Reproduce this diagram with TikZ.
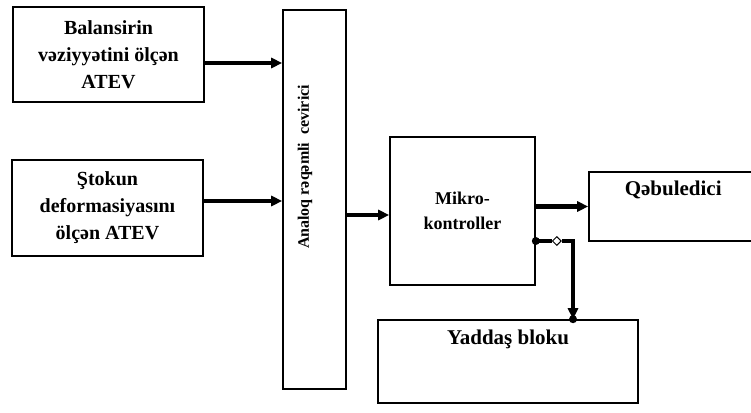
\documentclass[tikz,border=0pt]{standalone}
\usepackage{fontspec}
\setmainfont{Liberation Serif}
\usepackage{tikz}
\usetikzlibrary{arrows.meta,positioning,shapes.geometric}

\begin{document}
\begin{tikzpicture}[x=1pt,y=-1pt,>={Triangle[length=11pt,width=10pt]},
  blk/.style={draw,line width=1.6pt,inner sep=0pt,align=center,
    font=\bfseries\fontsize{20}{27}\selectfont},
  lbl/.style={inner sep=0pt,font=\bfseries\fontsize{21}{27}\selectfont},
  sig/.style={->,line width=4.5pt}]
  \useasboundingbox (0,0) rectangle (751,412);
  % measuring blocks
  \node[blk,minimum width=191pt,minimum height=95pt] (bal) at (108.5,54.5)
        {Balansirin\\vəziyyətini ölçən\\ATEV};
  \node[blk,minimum width=191pt,minimum height=96pt] (stok) at (107.5,208)
        {Ştokun\\deformasiyasını\\ölçən ATEV};
  % converter, text turned upright
  \node[blk,minimum width=63pt,minimum height=379pt] (adc) at (314.5,199.5) {};
  \node[rotate=90,inner sep=0pt,font=\bfseries\fontsize{16}{20}\selectfont]
        (adct) at (305,167) {Analoq rəqəmli~ cevirici};
  \node[blk,minimum width=145pt,minimum height=148pt,
        font=\bfseries\fontsize{18}{25}\selectfont] (mik) at (462.5,211)
        {Mikro-\\kontroller};
  % receiver runs off the right edge
  \node[blk,minimum width=250pt,minimum height=69pt] (qeb) at (714,206.5) {};
  \node[lbl,anchor=north] (qebt) at ([xshift=85pt,yshift=-10pt]qeb.north west)
        {Qəbuledici};
  \node[blk,minimum width=260pt,minimum height=83pt] (yad) at (508,361.5) {};
  \node[lbl,below=11pt of yad.north] (yadt) {Yaddaş bloku};
  % signal lines
  \coordinate (a1) at ([yshift=-8.5pt]bal.east);
  \coordinate (a2) at ([yshift=7pt]stok.east);
  \coordinate (a3) at ([yshift=-4pt]mik.west);
  \draw[sig] (a1) -- (a1 -| adc.west);
  \draw[sig] (a2) -- (a2 -| adc.west);
  \draw[sig] (a3 -| adc.east) -- (a3);
  \draw[sig] (mik.east |- qeb.west) -- (qeb.west);
  % memory link
  \coordinate (m1) at ([yshift=-30pt]mik.east);
  \coordinate (ym) at ([xshift=65pt]yad.north);
  \node[diamond,draw,fill=white,line width=1pt,inner sep=0pt,minimum size=9pt]
        (dm) at ([xshift=21pt]m1) {};
  \draw[line width=3.5pt] (m1) -- (dm.west);
  \draw[sig] (dm.east) -| (ym);
  \fill (m1) circle (4);
  \fill (ym) circle (4);
\end{tikzpicture}
\end{document}
